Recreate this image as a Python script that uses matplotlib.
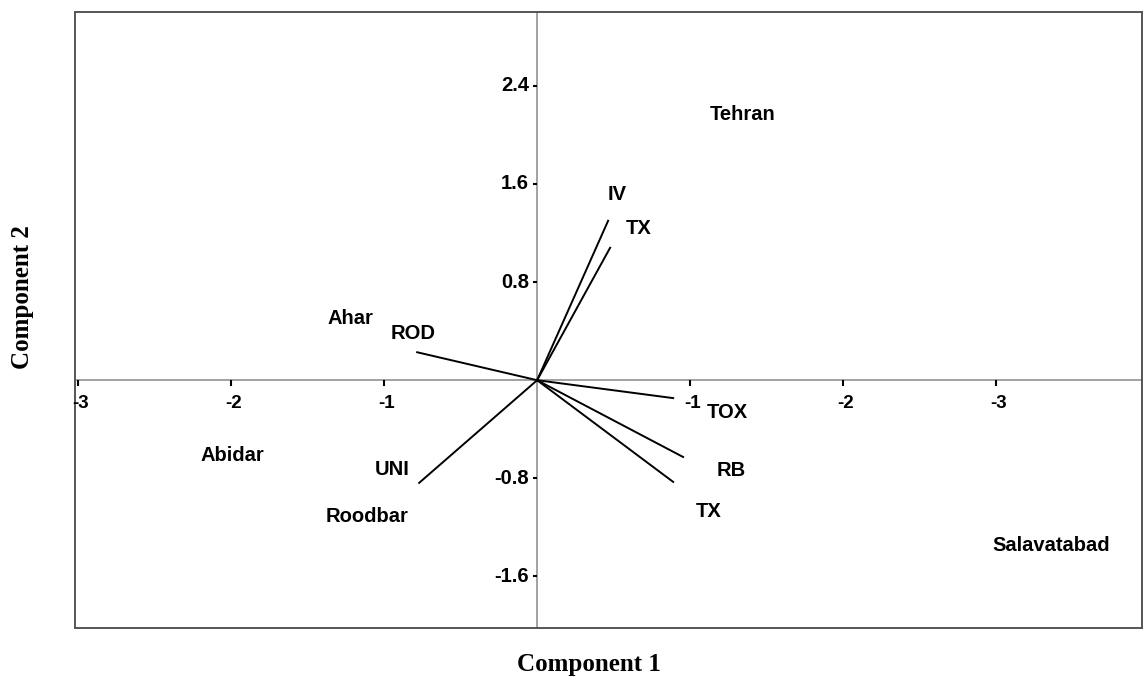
import numpy as np
import matplotlib.pyplot as plt

# variable vectors (end points of the loading lines)
vec_x = [0.464, 0.477, 0.889, 0.954, 0.889, -0.784, -0.771]
vec_y = [1.30, 1.08, -0.146, -0.626, -0.829, 0.228, -0.837]

# labels and where they sit
labels = ['Tehran', 'IV', 'TX', 'Ahar', 'ROD', 'TOX', 'RB', 'TX',
          'Abidar', 'UNI', 'Roodbar', 'Salavatabad']
lab_x = [1.34, 0.523, 0.661, -1.22, -0.81, 1.245, 1.27, 1.124,
         -1.99, -0.948, -1.11, 3.36]
lab_y = [2.17, 1.51, 1.24, 0.50, 0.38, -0.26, -0.74, -1.07,
         -0.61, -0.73, -1.11, -1.35]

xticks = [-3, -2, -1, 1, 2, 3]
xtick_labels = ['-3', '-2', '-1', '-1', '-2', '-3']
yticks = [2.4, 1.6, 0.8, -0.8, -1.6]
ytick_labels = ['2.4', '1.6', '0.8', '-0.8', '-1.6']

fig = plt.figure(figsize=(11.45, 6.8), dpi=100)
ax = fig.add_axes([0.0655, 0.0765, 0.9315, 0.9055])
ax.set_xlim(-3.02, 3.95)
ax.set_ylim(-2.02, 3.0)
ax.set_xticks([])
ax.set_yticks([])
for s in ax.spines.values():
    s.set_color('#555555')
    s.set_linewidth(1.4)

# center cross
ax.axhline(0, color='#9a9a9a', lw=1.3, zorder=1)
ax.axvline(0, color='#9a9a9a', lw=1.3, zorder=1)

# small tick marks on the cross
ax.plot(xticks, np.zeros(len(xticks)), ls='none', marker=3, ms=4, color='black', mew=1.5)
ax.plot(np.zeros(len(yticks)), yticks, ls='none', marker=0, ms=3, color='black', mew=1.5)

for x, t in zip(xticks, xtick_labels):
    ax.annotate(t, (x, 0), xytext=(2, -17), textcoords='offset points',
                ha='center', va='center', fontsize=13.5, fontweight='bold',
                family='Liberation Sans')
for y, t in zip(yticks, ytick_labels):
    ax.annotate(t, (0, y), xytext=(-6, 0), textcoords='offset points',
                ha='right', va='center', fontsize=14.5, fontweight='bold',
                family='Liberation Sans')

# loading vectors
for x, y in zip(vec_x, vec_y):
    ax.plot([0, x], [0, y], color='black', lw=1.4, zorder=3)

for t, x, y in zip(labels, lab_x, lab_y):
    ax.text(x, y, t, ha='center', va='center', fontsize=14.5,
            fontweight='bold', family='Liberation Sans')

fig.text(589 / 1145, 1 - 665 / 680, 'Component 1', ha='center', va='center',
         fontsize=18, fontweight='bold', family='Liberation Serif')
fig.text(22 / 1145, 1 - 297 / 680, 'Component 2', ha='center', va='center',
         rotation=90, fontsize=18, fontweight='bold', family='Liberation Serif')

fig.savefig('out.png', dpi=100)
